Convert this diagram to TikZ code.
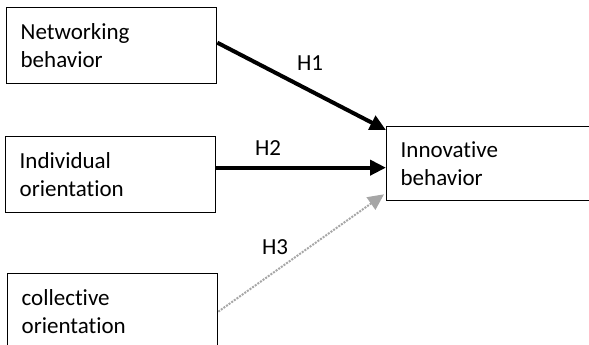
\documentclass[tikz,border=0pt]{standalone}
\usepackage{fontspec}
\setmainfont{Carlito}[Ligatures=NoCommon]
\usepackage{tikz}
\usetikzlibrary{positioning, calc, arrows.meta}
\definecolor{dotgray}{HTML}{A6A6A6}
\tikzset{
	varbox/.style={draw=black, line width=0.65pt, anchor=north west, text width=91pt,
		inner xsep=7pt, align=left, minimum height=38pt,
		font=\fontsize{11.5}{13.8}\selectfont}
}
\tikzset{
	hyparrow/.style={line width=2pt, -{Triangle[length=8pt,width=7.5pt]}}
}
\tikzset{
	weakarrow/.style={line width=1pt, draw=dotgray, dash pattern=on 1pt off 0.6pt,
		-{Triangle[length=8pt,width=7.5pt,fill=dotgray]}}
}
\tikzset{
	hyplabel/.style={font=\fontsize{11.5}{13.8}\selectfont}
}
\begin{document}
\begin{tikzpicture}[x=0.5pt,y=-0.5pt]
\path[use as bounding box, clip] (0,0) rectangle (589,344);

\node[varbox] (net) at (6,7) {Networking\\behavior};
\node[varbox] (ind) at (5,136) {Individual\\orientation};
\node[varbox] (coll) at (7,273) {collective\\orientation};
\node[varbox, minimum height=37pt] (inno) at (386,126) {Innovative\\behavior};

\coordinate (h2s) at ([yshift=3.5pt]ind.east);

\draw[hyparrow] ([yshift=1.5pt]net.east) -- ([yshift=-2pt]inno.north west);
\draw[hyparrow] (h2s) -- (h2s -| inno.west);
\draw[weakarrow] (coll.east) -- ([xshift=-1pt,yshift=3.5pt]inno.south west);

\node[hyplabel] (lh1) at (310,63) {H1};
\node[hyplabel] (lh2) at (268,148) {H2};
\node[hyplabel] (lh3) at (275,247) {H3};

\end{tikzpicture}
\end{document}
